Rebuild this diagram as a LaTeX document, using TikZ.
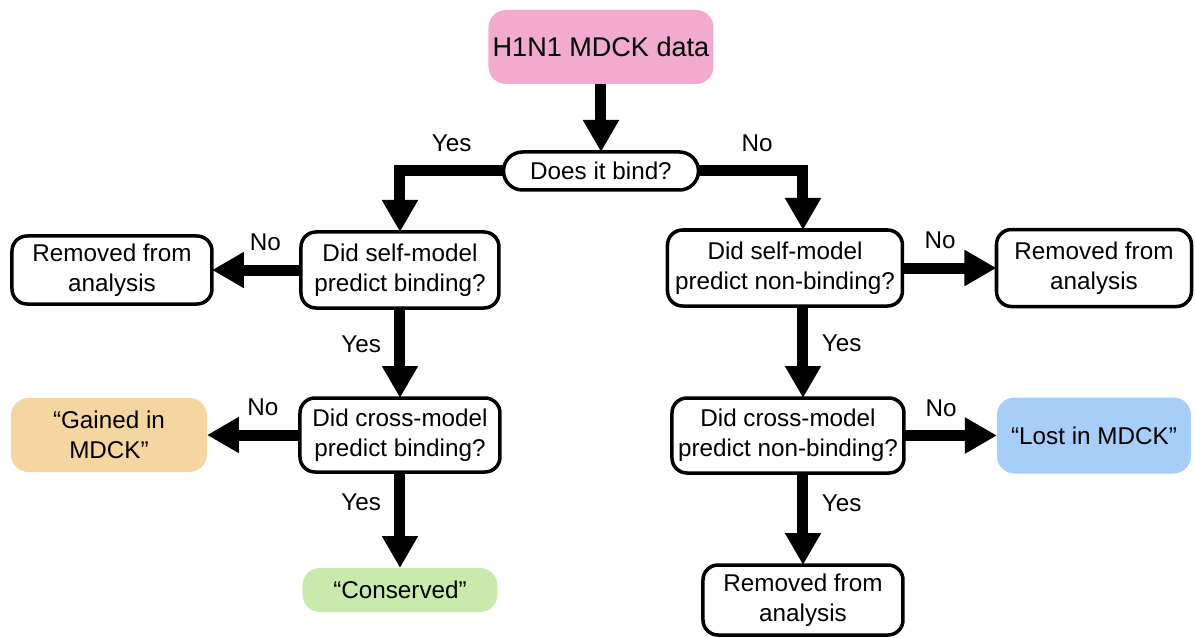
\documentclass[tikz,border=0pt]{standalone}
\usepackage{fontspec}
\setmainfont{Liberation Sans}
\usetikzlibrary{arrows.meta, positioning}
\definecolor{srcpink}{RGB}{242,170,206}
\definecolor{gainorange}{RGB}{246,214,160}
\definecolor{consgreen}{RGB}{200,234,172}
\definecolor{lostblue}{RGB}{166,206,246}
\tikzset{%
	box/.style={draw, line width=0.07cm, rounded corners=0.3cm, align=center, inner sep=2pt,%
		outer sep=0pt, font=\fontsize{13.8}{17}\selectfont},
	query/.style={box, minimum width=3.96cm, minimum height=1.52cm},
	drop/.style={box, minimum width=4cm, minimum height=1.36cm},
	res/.style={rounded corners=0.35cm, align=center, inner sep=2pt, outer sep=0pt, minimum width=3.92cm,%
		minimum height=1.48cm, font=\fontsize{13.8}{17}\selectfont},
	flow/.style={line width=0.22cm, -{Triangle[width=0.68cm,length=0.64cm]}},
	ans/.style={inner sep=0.27cm, font=\fontsize{13.8}{17}\selectfont}
}

\begin{document}
\begin{tikzpicture}
	\useasboundingbox (-12.02,0.94) rectangle (11.90,-11.82);
	\node[res, fill=srcpink, minimum width=4.5cm, font=\fontsize{15.4}{18}\selectfont] (data) {H1N1 MDCK data};
	\node[box, rounded corners=0.38cm, minimum width=3.9cm, minimum height=0.76cm, below=1.36cm of data] (bind) {Does it bind?};
	\node[query, below=0.84cm of bind, xshift=-4.02cm] (lself) {Did self-model\\predict binding?};
	\node[query, minimum width=4.7cm, below=0.8cm of bind, xshift=3.68cm] (rself) {Did self-model\\predict non-binding?};
	\node[drop, left=1.78cm of lself] (lrem) {Removed from\\analysis};
	\node[query, minimum width=4cm, minimum height=1.48cm, below=1.8cm of lself] (lcross) {Did cross-model\\predict binding?};
	\node[res, fill=gainorange, left=1.86cm of lcross] (gained) {“Gained in\\MDCK”};
	\node[res, fill=consgreen, minimum width=3.9cm, minimum height=0.88cm, below=1.92cm of lcross] (cons) {“Conserved”};
	\node[drop, minimum width=3.9cm, minimum height=1.54cm, right=1.88cm of rself] (rrem) {Removed from\\analysis};
	\node[query, minimum width=4.64cm, minimum height=1.5cm, below=1.84cm of rself, xshift=0.06cm] (rcross) {Did cross-model\\predict non-binding?};
	\node[res, fill=lostblue, minimum width=3.88cm, minimum height=1.52cm, right=1.86cm of rcross] (lost) {“Lost in MDCK”};
	\node[drop, minimum height=1.4cm, below=1.84cm of rcross, xshift=0.3cm] (rrem2) {Removed from\\analysis};

	\draw[flow] (data) -- (bind);
	\draw[flow] (bind) -| node[ans, pos=0.25, above]{Yes} (lself);
	\draw[flow] (bind) -| node[ans, pos=0.28, above]{No} ([xshift=0.36cm]rself.north);
	\draw[flow] (lself) -- node[ans, pos=0.4, above]{No} (lrem);
	\draw[flow] (lself) -- node[ans, pos=0.4, left]{Yes} (lcross);
	\draw[flow] (lcross) -- node[ans, pos=0.4, above]{No} (gained);
	\draw[flow] (lcross) -- node[ans, pos=0.32, left]{Yes} (cons);
	\draw[flow] (rself) -- node[ans, pos=0.4, above]{No} (rrem);
	\draw[flow] ([xshift=0.36cm]rself.south) -- node[ans, pos=0.4, right]{Yes} ([xshift=0.3cm]rcross.north);
	\draw[flow] (rcross) -- node[ans, pos=0.4, above]{No} (lost);
	\draw[flow] ([xshift=0.3cm]rcross.south) -- node[ans, pos=0.33, right]{Yes} (rrem2);
\end{tikzpicture}
\end{document}
